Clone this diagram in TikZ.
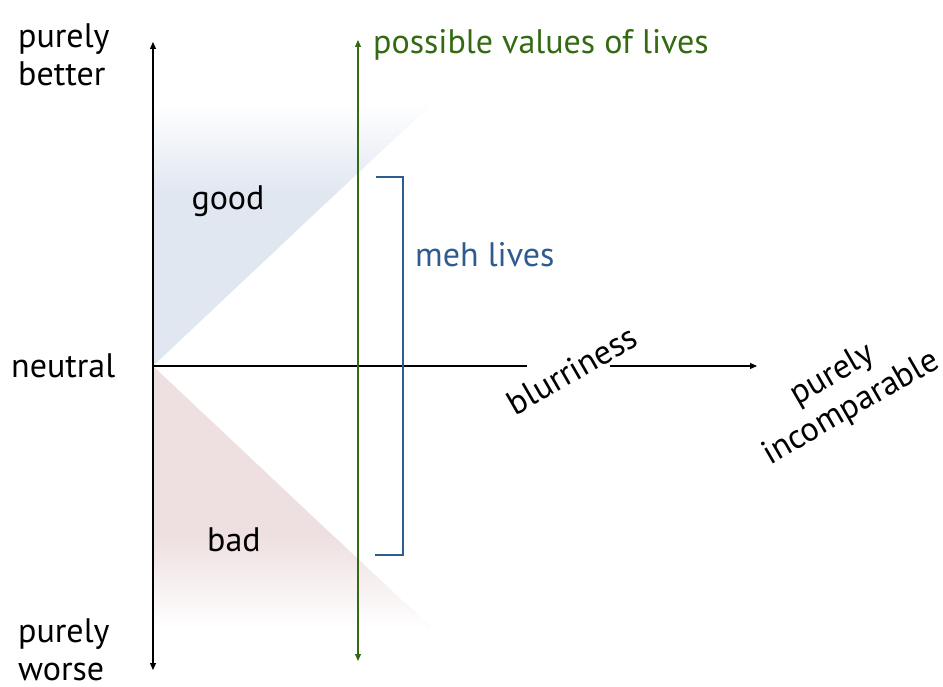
\documentclass[tikz,border=0pt]{standalone}
\usepackage{fontspec}
\setmainfont{PT Sans}
\usepackage{xcolor}
\usetikzlibrary{calc,arrows.meta}
\definecolor{ink}{HTML}{000000}
\definecolor{lifegreen}{HTML}{336A12}
\definecolor{mehblue}{HTML}{2F5C8F}
\definecolor{goodfill}{HTML}{E0E7F1}
\definecolor{badfill}{HTML}{EEDFE0}
\tikzset{
  axis/.style={draw=ink, line width=1.1pt},
  gline/.style={draw=lifegreen, line width=1.1pt},
  bline/.style={draw=mehblue, line width=1.1pt},
  tip/.style={-{Triangle[length=7pt,width=6pt]}},
  lbl/.style={text=ink, font=\fontsize{34}{38}\selectfont, inner sep=0pt},
  glabel/.style={text=lifegreen, font=\fontsize{34}{38}\selectfont, inner sep=0pt},
  blabel/.style={text=mehblue, font=\fontsize{34}{38}\selectfont, inner sep=0pt}
}

\begin{document}
\begin{tikzpicture}[x=1pt, y=-1pt]
  \useasboundingbox (0,0) rectangle (943,687);

  \coordinate (N) at (153,366);
  \coordinate (top) at (153,42);
  \coordinate (bottom) at (153,670);
  \coordinate (blurL) at (527,366);
  \coordinate (blurR) at (610,366);
  \coordinate (far) at (757,366);
  \coordinate (gtop) at (358,40);
  \coordinate (gbot) at (358,661);

  % fading regions
  \begin{scope}
    \clip (N) -- (153,105) -- (430,105) -- cycle;
    \fill[goodfill] (153,105) rectangle (430,366);
    \shade[top color=white, bottom color=goodfill] (150,104) rectangle (432,195);
  \end{scope}
  \begin{scope}
    \clip (N) -- (153,627) -- (430,627) -- cycle;
    \fill[badfill] (153,366) rectangle (430,627);
    \shade[top color=badfill, bottom color=white] (150,535) rectangle (432,628);
  \end{scope}

  % axes
  \draw[axis, tip] (N) -- (top);
  \draw[axis, tip] (N) -- (bottom);
  \draw[axis] (N) -- (blurL);
  \draw[axis, tip] (blurR) -- (far);

  % possible values
  \draw[gline, {Triangle[length=7pt,width=6pt]}-{Triangle[length=7pt,width=6pt]}] (gtop) -- (gbot);

  % meh bracket
  \coordinate (b1) at (376,177);
  \coordinate (b2) at (403,177);
  \coordinate (b3) at (403,555);
  \coordinate (b4) at (375,555);
  \draw[bline] (b1) -- (b2) -- (b3) -- (b4);

  \node[lbl, align=left, anchor=west] (better) at (18,55) {purely\\better};
  \node[lbl, anchor=west] (neutral) at (11,366) {neutral};
  \node[lbl, align=left, anchor=west] (worse) at (18,650) {purely\\worse};
  \node[lbl] (good) at (228,201) {good};
  \node[lbl] (bad) at (234,540) {bad};
  \node[blabel, anchor=west] (meh) at (415,255) {meh lives};
  \node[glabel, anchor=west] (values) at (373,45) {possible values of lives};
  \node[lbl, rotate=30] (blur) at (572,370) {blurriness};
  \node[lbl, rotate=30, align=center] (incomp) at (842,392) {purely\\incomparable};
\end{tikzpicture}
\end{document}
